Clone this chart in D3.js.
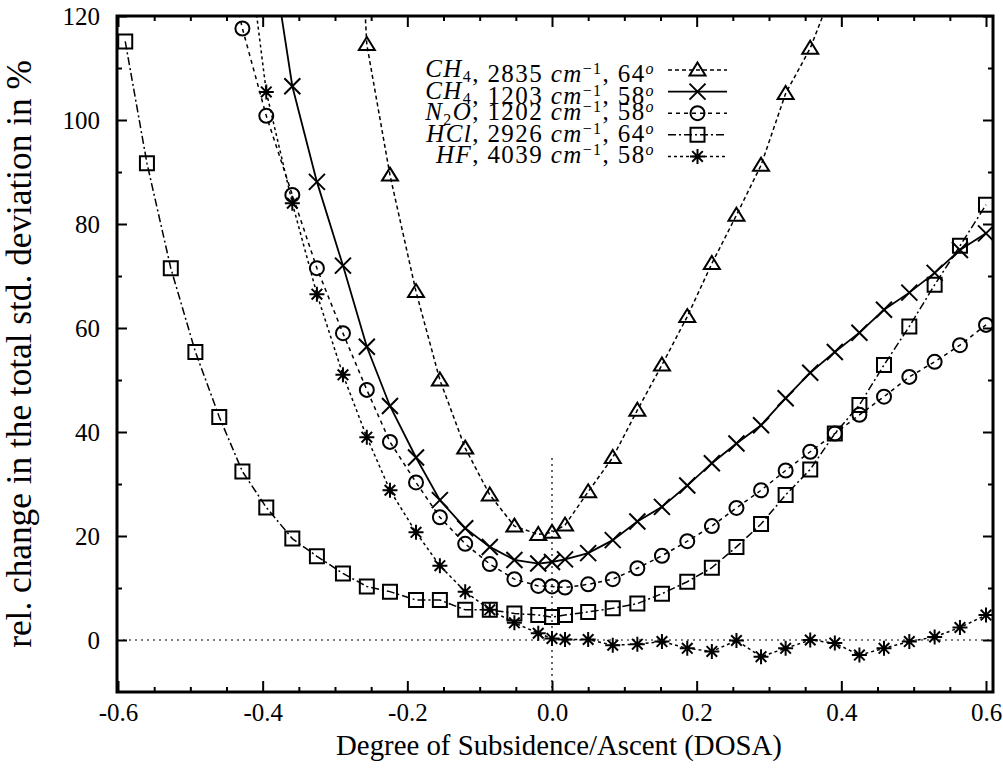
<!DOCTYPE html>
<html><head><meta charset="utf-8">
<script src="https://cdn.jsdelivr.net/npm/d3@7"></script>
<style>
html,body{margin:0;padding:0;background:#fff;}
svg{display:block;}
</style></head><body>
<svg id="chart" width="1003" height="772"></svg>
<script>
// ---------------- data ----------------
const dosa = [-0.59,-0.56,-0.527,-0.493,-0.46,-0.428,-0.395,-0.359,-0.325,-0.289,-0.256,-0.224,-0.188,-0.155,-0.12,-0.086,-0.052,-0.019,0,0.018,0.05,0.084,0.118,0.152,0.187,0.221,0.255,0.289,0.323,0.357,0.391,0.425,0.459,0.494,0.529,0.564,0.6];

const ch4_2835 = [null,null,null,null,null,null,null,null,null,200,114.5,89.4,67.0,50.0,36.9,27.9,21.9,20.3,20.7,22.1,28.5,35.1,44.2,52.9,62.2,72.4,81.7,91.3,105.1,113.8,126,null,null,null,null,null,null];
const ch4_1203 = [null,null,null,null,null,null,139,106.5,88.1,72.0,56.4,45.0,35.1,26.9,21.5,17.9,15.4,14.7,15.0,15.5,16.7,19.2,22.8,25.6,29.7,34.0,37.8,41.3,46.5,51.4,55.4,59.1,63.5,66.8,70.6,75.0,78.2];
const n2o_1202 = [null,null,null,null,137,117.6,100.8,85.6,71.5,59.0,48.1,38.1,30.3,23.6,18.5,14.6,11.7,10.4,10.3,10.1,10.7,11.7,13.8,16.2,19.0,21.9,25.4,28.8,32.6,36.2,39.7,43.3,46.8,50.6,53.5,56.7,60.6];
const hcl_2926 = [115.1,91.7,71.5,55.4,42.9,32.4,25.5,19.5,16.1,12.8,10.3,9.3,7.7,7.7,5.8,5.8,5.1,4.8,4.4,4.8,5.4,6.1,7.0,8.9,11.2,13.9,17.9,22.3,27.9,32.8,39.7,45.2,52.9,60.3,68.3,75.8,83.7];
const hf_4039 = [null,null,null,null,null,142,105.4,84.0,66.5,51.0,39.0,28.8,20.7,14.3,9.3,5.8,3.3,1.3,0.3,0.1,0.1,-1.0,-0.8,-0.3,-1.6,-2.2,-0.1,-3.2,-1.6,0,-0.6,-2.9,-1.6,-0.3,0.6,2.4,4.8];

const legendMolecule = [["CH","4",""],["CH","4",""],["N","2","O"],["HCl","",""],["HF","",""]];
const legendWavenumber = ["2835","1203","1202","2926","4039"];
const legendAngle = ["64","58","58","64","58"];

const xTickValues = [-0.6,-0.4,-0.2,0,0.2,0.4,0.6];
const xTickLabels = ["-0.6","-0.4","-0.2","0.0","0.2","0.4","0.6"];
const xMinorTicks = [-0.55,-0.5,-0.45,-0.35,-0.3,-0.25,-0.15,-0.1,-0.05,0.05,0.1,0.15,0.25,0.3,0.35,0.45,0.5,0.55];
const yTickValues = [0,20,40,60,80,100,120];
const yTickLabels = ["0","20","40","60","80","100","120"];
const yMinorTicks = [10,30,50,70,90,110];

const xTitle = "Degree of Subsidence/Ascent (DOSA)";
const yTitle = "rel. change in the total std. deviation in %";

// ---------------- styles ----------------
const FONT = '"Liberation Serif", "DejaVu Serif", "Times New Roman", serif';
const series = [
  {values: ch4_2835, dash: "4,3", width: 1.5, marker: "triangle"},
  {values: ch4_1203, dash: null, width: 1.8, marker: "cross"},
  {values: n2o_1202, dash: "4,4", width: 1.5, marker: "circle"},
  {values: hcl_2926, dash: "8,3,2,3", width: 1.5, marker: "square"},
  {values: hf_4039, dash: "3,3", width: 1.5, marker: "star"}
];
const markerPaths = {
  triangle: "M0,-7.5L8,5.5L-8,5.5Z",
  cross: "M-8,-8L8,8M-8,8L8,-8",
  circle: "M7,0A7,7 0 1,1 -7,0A7,7 0 1,1 7,0",
  square: "M-7,-7H7V7H-7Z",
  star: "M-7.5,0H7.5M0,-7.5V7.5M-5.3,-5.3L5.3,5.3M-5.3,5.3L5.3,-5.3"
};

const L = 117, R = 993, T = 16, B = 692;
const x = d3.scaleLinear().domain([-0.6, 0.6]).range([118, 986]);
const y = d3.scaleLinear().domain([-10, 120]).range([B, T]);

const svg = d3.select("#chart").attr("font-family", FONT);
svg.append("defs").append("clipPath").attr("id","plotclip")
  .append("rect").attr("x",L).attr("y",T).attr("width",R-L).attr("height",B-T);

// reference lines
svg.append("line").attr("x1",L).attr("x2",R).attr("y1",y(0)).attr("y2",y(0))
  .attr("stroke","#000").attr("stroke-width",1.2).attr("stroke-dasharray","2,4");
svg.append("line").attr("x1",x(0)).attr("x2",x(0)).attr("y1",y(35)).attr("y2",B)
  .attr("stroke","#000").attr("stroke-width",1.2).attr("stroke-dasharray","2,4");

// axes (ticks inward)
function styleAxis(g, fs) {
  g.select(".domain").remove();
  g.selectAll(".tick line").attr("stroke","#000").attr("stroke-width",2);
  g.attr("font-family", FONT).attr("font-size", fs);
  g.selectAll("text").attr("font-family", FONT).attr("font-size", fs).attr("fill","#000");
}
svg.append("g").attr("transform",`translate(0,${B})`)
  .call(d3.axisBottom(x).tickValues(xTickValues).tickFormat((d,i)=>xTickLabels[i]).tickSizeInner(-11).tickSizeOuter(0).tickPadding(11))
  .call(g=>styleAxis(g,25));
svg.append("g").attr("transform",`translate(0,${B})`)
  .call(d3.axisBottom(x).tickValues(xMinorTicks).tickFormat("").tickSizeInner(-5).tickSizeOuter(0))
  .call(g=>styleAxis(g,25));
svg.append("g").attr("transform",`translate(0,${T})`)
  .call(d3.axisTop(x).tickValues(xTickValues).tickFormat("").tickSizeInner(-11).tickSizeOuter(0))
  .call(g=>styleAxis(g,25));
svg.append("g").attr("transform",`translate(0,${T})`)
  .call(d3.axisTop(x).tickValues(xMinorTicks).tickFormat("").tickSizeInner(-5).tickSizeOuter(0))
  .call(g=>styleAxis(g,25));
svg.append("g").attr("transform",`translate(${L},0)`)
  .call(d3.axisLeft(y).tickValues(yTickValues).tickFormat((d,i)=>yTickLabels[i]).tickSizeInner(-10).tickSizeOuter(0).tickPadding(17))
  .call(g=>styleAxis(g,25));
svg.append("g").attr("transform",`translate(${L},0)`)
  .call(d3.axisLeft(y).tickValues(yMinorTicks).tickFormat("").tickSizeInner(-5).tickSizeOuter(0))
  .call(g=>styleAxis(g,25));
svg.append("g").attr("transform",`translate(${R},0)`)
  .call(d3.axisRight(y).tickValues(yTickValues).tickFormat("").tickSizeInner(-10).tickSizeOuter(0))
  .call(g=>styleAxis(g,25));
svg.append("g").attr("transform",`translate(${R},0)`)
  .call(d3.axisRight(y).tickValues(yMinorTicks).tickFormat("").tickSizeInner(-5).tickSizeOuter(0))
  .call(g=>styleAxis(g,25));

// frame
svg.append("rect").attr("x",L).attr("y",T).attr("width",R-L).attr("height",B-T)
  .attr("fill","none").attr("stroke","#000").attr("stroke-width",3);

// series
const plot = svg.append("g").attr("clip-path","url(#plotclip)");
series.forEach(s => {
  const line = d3.line().defined(d => d != null).x((d,i)=>x(dosa[i])).y(d=>y(d));
  plot.append("path").datum(s.values).attr("d", line)
    .attr("fill","none").attr("stroke","#000").attr("stroke-width",s.width)
    .attr("stroke-dasharray", s.dash);
  plot.selectAll(null).data(s.values.map((v,i)=>({v, i})).filter(d=>d.v!=null))
    .enter().append("path")
    .attr("transform", d=>`translate(${x(dosa[d.i])},${y(d.v)})`)
    .attr("d", markerPaths[s.marker])
    .attr("fill","none").attr("stroke","#000").attr("stroke-width",2);
});

// legend
const legTextX = 655, legLineX1 = 668, legLineX2 = 727, legRow0 = 77, legStep = 21.6;
series.forEach((s, k) => {
  const by = legRow0 + k*legStep;
  const t = svg.append("text").attr("x", legTextX).attr("y", by).attr("text-anchor","end")
    .attr("font-family", FONT).attr("font-size", 25).attr("letter-spacing", 1.4).attr("fill","#000");
  const m = legendMolecule[k];
  t.append("tspan").attr("font-style","italic").text(m[0]);
  if (m[1]) {
    t.append("tspan").attr("dy", 5).attr("font-size", 16).text(m[1]);
    t.append("tspan").attr("dy", -5).attr("font-style","italic").text(m[2]);
  }
  t.append("tspan").text(", " + legendWavenumber[k] + " ");
  t.append("tspan").attr("font-style","italic").text("cm");
  t.append("tspan").attr("dy", -8).attr("font-size", 16).text("\u22121");
  t.append("tspan").attr("dy", 8).text(", " + legendAngle[k]);
  t.append("tspan").attr("dy", -8).attr("font-size", 16).attr("font-style","italic").text("o");
  const ly = by - 7;
  svg.append("line").attr("x1",legLineX1).attr("x2",legLineX2).attr("y1",ly).attr("y2",ly)
    .attr("stroke","#000").attr("stroke-width",s.width).attr("stroke-dasharray",s.dash);
  svg.append("path").attr("transform",`translate(${(legLineX1+legLineX2)/2},${ly})`)
    .attr("d", markerPaths[s.marker]).attr("fill","none").attr("stroke","#000").attr("stroke-width",2);
});

// titles (fitted to reference widths)
function fit(sel, target, base) {
  sel.attr("font-size", base);
  const w = sel.node().getComputedTextLength();
  sel.attr("font-size", base * target / w);
}
const xt = svg.append("text").attr("x", 559).attr("y", 755).attr("text-anchor","middle")
  .attr("font-family", FONT).attr("fill","#000").text(xTitle);
fit(xt, 446, 28);
const yt = svg.append("text").attr("transform","translate(31,354) rotate(-90)").attr("text-anchor","middle")
  .attr("font-family", FONT).attr("fill","#000").text(yTitle);
fit(yt, 588, 30);
</script>
</body></html>
